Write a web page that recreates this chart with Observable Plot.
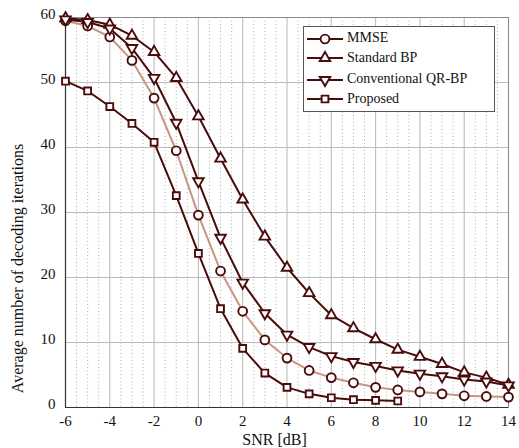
<!DOCTYPE html>
<html>
<head>
<meta charset="utf-8">
<script src="https://cdn.jsdelivr.net/npm/d3@7"></script>
<script src="https://cdn.jsdelivr.net/npm/@observablehq/plot@0.6"></script>
<style>
  body { margin: 0; background: #fff; }
  #wrap { position: relative; width: 519px; height: 448px; }
  #wrap svg text { font-family: "Liberation Serif", "Times New Roman", serif; }
</style>
</head>
<body>
<div id="wrap"></div>
<script>
// ---- data ----
const snr = [-6,-5,-4,-3,-2,-1,0,1,2,3,4,5,6,7,8,9,10,11,12,13,14];
const mmse = [59.5,58.7,57.0,53.4,47.6,39.5,29.6,21.0,14.8,10.4,7.6,5.7,4.6,3.8,3.1,2.7,2.4,2.1,1.8,1.7,1.6];
const standardBP = [59.9,59.6,58.9,57.2,54.7,50.7,44.8,38.3,32.0,26.3,21.5,17.6,14.2,12.2,10.5,8.9,7.8,6.7,5.4,4.6,3.5];
const convQRBP = [59.7,59.3,58.3,55.3,50.7,43.8,34.8,26.1,19.2,14.5,11.2,9.3,7.9,7.0,6.4,5.7,5.2,4.8,4.3,4.0,3.4];
const proposedSnr = [-6,-5,-4,-3,-2,-1,0,1,2,3,4,5,6,7,8,9];
const proposed = [50.2,48.7,46.3,43.7,40.8,32.6,23.7,15.2,9.1,5.3,3.1,2.1,1.5,1.2,1.1,1.0];
const seriesNames = ["MMSE","Standard BP","Conventional QR-BP","Proposed"];
const xTicks = [-6,-4,-2,0,2,4,6,8,10,12,14];
const xMinor = d3.range(-5.5, 14, 0.5).filter(v => Math.abs(v % 2) !== 0);
const yTicks = [0,10,20,30,40,50,60];
const xTitle = "SNR [dB]";
const yTitle = "Average number of decoding iterations";

// ---- styles ----
const dark = "#4a0b0b";
const tan = "#c8957f";
const font = "'Liberation Serif', 'Times New Roman', serif";

// custom symbols
const triUp = { draw(ctx) { const s = 10.5, h = s * Math.sqrt(3) / 2;
  ctx.moveTo(0, -2*h/3); ctx.lineTo(s/2, h/3); ctx.lineTo(-s/2, h/3); ctx.closePath(); } };
const triDown = { draw(ctx) { const s = 10.5, h = s * Math.sqrt(3) / 2;
  ctx.moveTo(0, 2*h/3); ctx.lineTo(s/2, -h/3); ctx.lineTo(-s/2, -h/3); ctx.closePath(); } };
const sq = { draw(ctx) { const a = 3.4; ctx.rect(-a, -a, 2*a, 2*a); } };
const circ = { draw(ctx) { const r = 4.4; ctx.moveTo(r, 0); ctx.arc(0, 0, r, 0, 2*Math.PI); } };

const tbl = (xs, ys) => xs.map((x, i) => ({x, y: ys[i]}));
const dMMSE = tbl(snr, mmse), dSBP = tbl(snr, standardBP), dQR = tbl(snr, convQRBP), dProp = tbl(proposedSnr, proposed);

const fmt = d => String(d);

const chart = Plot.plot({
  width: 519, height: 448,
  marginLeft: 65, marginRight: 11, marginTop: 17, marginBottom: 41,
  style: { fontFamily: font, fontSize: "15px", background: "white", color: "#111" },
  x: { domain: [-6, 14] },
  y: { domain: [0, 60] },
  marks: [
    Plot.ruleX(xMinor, { stroke: "#9a9a9a", strokeWidth: 0.8, strokeDasharray: "1,2.5" }),
    Plot.ruleX(xTicks, { stroke: "#bdbdbd", strokeWidth: 1.1 }),
    Plot.ruleY(yTicks, { stroke: "#bdbdbd", strokeWidth: 1.1 }),
    Plot.frame({ stroke: "#8a8a8a", strokeWidth: 1 }),
    Plot.ruleX([-6], { stroke: "#333", strokeWidth: 1.2 }),
    Plot.ruleY([0], { stroke: "#333", strokeWidth: 1.2 }),
    Plot.axisX({ ticks: xTicks, tickSize: 0, tickPadding: 8, tickFormat: fmt, label: null, fontSize: 15 }),
    Plot.axisY({ ticks: yTicks, tickSize: 0, tickPadding: 10, tickFormat: fmt, label: null, dy: -3.5, fontSize: 15 }),
    Plot.text([xTitle], { text: d => d, frameAnchor: "bottom", textAnchor: "middle", dx: -12.5, dy: 32, lineAnchor: "middle", fontSize: 16, fill: "#111" }),
    Plot.text([yTitle], { text: d => d, frameAnchor: "left", textAnchor: "middle", rotate: -90, dx: -48, dy: 56, lineAnchor: "middle", fontSize: 16, fill: "#111" }),
    Plot.line(dMMSE, { x: "x", y: "y", stroke: tan, strokeWidth: 2 }),
    Plot.line(dSBP, { x: "x", y: "y", stroke: dark, strokeWidth: 2 }),
    Plot.line(dQR, { x: "x", y: "y", stroke: dark, strokeWidth: 2 }),
    Plot.line(dProp, { x: "x", y: "y", stroke: dark, strokeWidth: 2 }),
    Plot.dot(dMMSE, { x: "x", y: "y", symbol: circ, fill: "white", stroke: dark, strokeWidth: 1.9 }),
    Plot.dot(dSBP, { x: "x", y: "y", symbol: triUp, fill: "white", stroke: dark, strokeWidth: 1.9 }),
    Plot.dot(dQR, { x: "x", y: "y", symbol: triDown, fill: "white", stroke: dark, strokeWidth: 1.9 }),
    Plot.dot(dProp, { x: "x", y: "y", symbol: sq, fill: "white", stroke: dark, strokeWidth: 1.9 })
  ]
});
const wrap = document.getElementById("wrap");
wrap.appendChild(chart);

// ---- legend (SVG overlay) ----
const syms = [circ, triUp, triDown, sq];
const W = 192, H = 86;
const rowsMarker = [13, 32, 54, 73];
const rowsText = [11, 31, 52.5, 72];
const ns = "http://www.w3.org/2000/svg";
const lg = document.createElementNS(ns, "svg");
lg.setAttribute("width", W); lg.setAttribute("height", H);
lg.style.position = "absolute"; lg.style.left = "303px"; lg.style.top = "26px";
const rect = document.createElementNS(ns, "rect");
rect.setAttribute("x", 0.5); rect.setAttribute("y", 0.5);
rect.setAttribute("width", W - 1); rect.setAttribute("height", H - 1);
rect.setAttribute("fill", "white"); rect.setAttribute("stroke", "#555"); rect.setAttribute("stroke-width", 1);
lg.appendChild(rect);
seriesNames.forEach((name, i) => {
  const ym = rowsMarker[i];
  const ln = document.createElementNS(ns, "line");
  ln.setAttribute("x1", 4); ln.setAttribute("x2", 40); ln.setAttribute("y1", ym); ln.setAttribute("y2", ym);
  ln.setAttribute("stroke", dark); ln.setAttribute("stroke-width", 2);
  lg.appendChild(ln);
  const p = document.createElementNS(ns, "path");
  p.setAttribute("d", d3.symbol(syms[i])());
  p.setAttribute("transform", `translate(22,${ym})`);
  p.setAttribute("fill", "white"); p.setAttribute("stroke", dark); p.setAttribute("stroke-width", 1.9);
  lg.appendChild(p);
  const t = document.createElementNS(ns, "text");
  t.setAttribute("x", 44); t.setAttribute("y", rowsText[i]);
  t.setAttribute("dominant-baseline", "central");
  t.setAttribute("font-size", 14); t.setAttribute("fill", "#111");
  t.textContent = name;
  lg.appendChild(t);
});
wrap.appendChild(lg);
</script>
</body>
</html>
